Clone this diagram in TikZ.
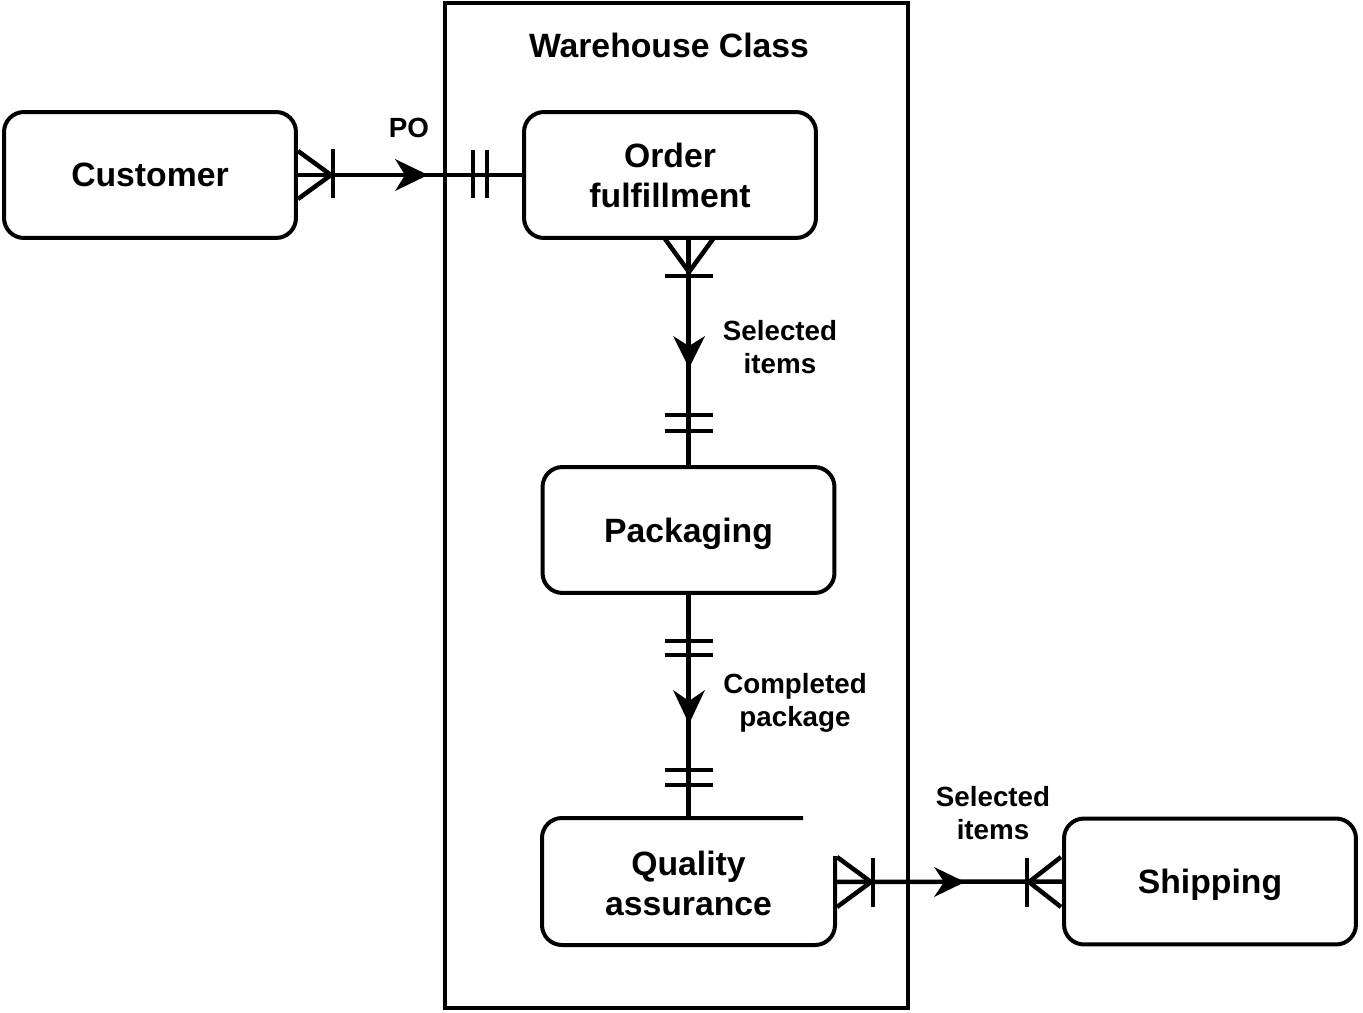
\documentclass[tikz,border=0pt]{standalone}
\usepackage{fontspec}
\setmainfont{Liberation Sans}
\usetikzlibrary{calc}
\begin{document}
\begin{tikzpicture}[x=0.02cm,y=-0.02cm,
  box/.style={draw, rounded corners=0.4cm, minimum width=5.84cm, minimum height=2.52cm,
    line width=0.08cm, align=center, inner sep=0pt, text depth=0pt,
    font=\bfseries\fontsize{19.2pt}{22.8pt}\selectfont},
  boxtext/.style={align=center, inner sep=0pt, text depth=0pt,
    font=\bfseries\fontsize{19.2pt}{22.8pt}\selectfont},
  lbl/.style={align=center, inner sep=0pt,
    font=\bfseries\fontsize{15.8pt}{18.8pt}\selectfont},
  conn/.style={line width=0.09cm},
  tip/.style={fill=black, draw=none}]
\useasboundingbox (0,0) rectangle (1363,1013);

% container
\node[draw, line width=0.08cm, minimum width=9.26cm, minimum height=20.1cm, inner sep=0pt] (wh) at (676.5,505.5) {};
\node[boxtext] (title) at (669,45) {Warehouse Class};

% boxes
\node[box] (cust) at (150,175) {Customer};
\node[box] (of) at (670,175) {Order\\fulfillment};
\node[box] (pack) at (688.5,530) {Packaging};
\node[boxtext, minimum width=5.86cm, minimum height=2.54cm] (qa) at (688.5,883.5) {Quality\\assurance};
\draw[line width=0.08cm, rounded corners=0.4cm] (803,818) -- (542,818) -- (542,945) -- (835,945) -- (835,856);
\node[box] (ship) at (1210,881.5) {Shipping};

% labels
\node[lbl] (lpo) at (409,128) {PO};
\node[lbl] (lsel) at (780,347) {Selected\\items};
\node[lbl] (lcomp) at (795,703) {Completed\\package};
\node[lbl] (lsel2) at (993,813) {Selected\\items};

% Customer -> Order fulfillment
\draw[conn] (cust.east) -- (of.west);
\draw[conn] (298,151) -- (331,175) -- (298,199);
\draw[conn] (333,149) -- (333,198);
\fill[tip] (428,175) -- (395,159) -- (405,175) -- (395,191) -- cycle;
\draw[conn] (473,150) -- (473,198);
\draw[conn] (487,150) -- (487,198);

% Order fulfillment -> Packaging
\draw[conn] (of.south -| pack.north) -- (pack.north);
\draw[conn] (665,239) -- (689,272) -- (713,239);
\draw[conn] (665,276) -- (713,276);
\fill[tip] (689,368) -- (673,336) -- (689,346) -- (705,336) -- cycle;
\draw[conn] (665,415) -- (713,415);
\draw[conn] (665,431) -- (713,431);

% Packaging -> Quality assurance
\draw[conn] (pack.south) -- (pack.south |- 0,818);
\draw[conn] (665,641) -- (713,641);
\draw[conn] (665,655) -- (713,655);
\fill[tip] (689,724) -- (673,690) -- (689,701) -- (705,690) -- cycle;
\draw[conn] (665,770) -- (713,770);
\draw[conn] (665,785) -- (713,785);

% Quality assurance -> Shipping
\draw[conn] (835,882) -- (ship.west);
\draw[conn] (837,857) -- (871,882) -- (837,907);
\draw[conn] (873,858) -- (873,907);
\fill[tip] (965,882) -- (934,867) -- (944,882) -- (934,897) -- cycle;
\draw[conn] (1027,858) -- (1027,907);
\draw[conn] (1061,857) -- (1029,882) -- (1061,907);
\end{tikzpicture}
\end{document}
